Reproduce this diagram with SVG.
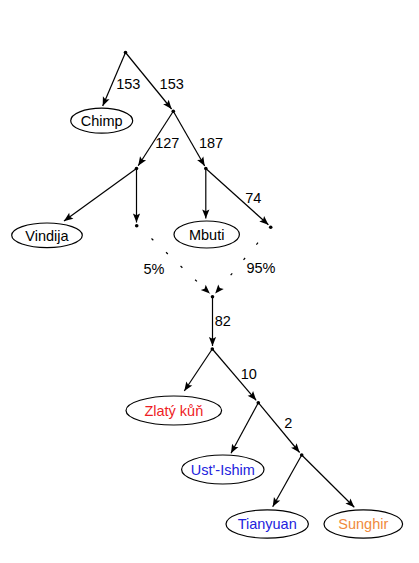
<svg xmlns="http://www.w3.org/2000/svg" width="419" height="563" viewBox="0 0 419 563">
<style>
text{font-family:"Liberation Sans",Arial,sans-serif;font-size:14.5px;text-anchor:middle;fill:#000}
.e line{stroke:#000;stroke-width:1.2;fill:none;marker-end:url(#arr)}
.d{stroke-dasharray:2.5 17.5}
.n ellipse{fill:#fff;stroke:#000;stroke-width:1.2}
.p{fill:#000}
</style>
<defs>
<marker id="arr" viewBox="-10 -5 11 10" refX="0" refY="0" markerWidth="11" markerHeight="10" markerUnits="userSpaceOnUse" orient="auto">
<path d="M0,0 L-9,-3.6 L-7.2,0 L-9,3.6 Z" fill="#000"/>
</marker>
</defs>
<rect width="419" height="563" fill="#fff"/>
<g class="e" id="edges">
<line x1="125.5" y1="52.5" x2="102.7" y2="106"/>
<line x1="125.5" y1="52.5" x2="171.6" y2="109"/>
<line x1="173.3" y1="111.3" x2="138.2" y2="165.8"/>
<line x1="173.3" y1="111.3" x2="204.7" y2="166"/>
<line x1="136.5" y1="168.5" x2="64" y2="221"/>
<line x1="136.5" y1="168.5" x2="136.5" y2="222.5"/>
<line x1="205.8" y1="168.5" x2="205.8" y2="218.5"/>
<line x1="205.8" y1="168.5" x2="268.4" y2="224.8"/>
<line class="d" x1="151.5" y1="238.5" x2="209.8" y2="293.6"/>
<line class="d" x1="258" y1="242.7" x2="215.2" y2="293.6"/>
<line x1="212.5" y1="296.7" x2="212.5" y2="346"/>
<line x1="212.3" y1="349" x2="184.3" y2="391"/>
<line x1="212.3" y1="349" x2="256.2" y2="400.3"/>
<line x1="258.3" y1="402.7" x2="231" y2="453.3"/>
<line x1="258.3" y1="402.7" x2="299.6" y2="452.5"/>
<line x1="301.7" y1="455" x2="272.7" y2="506.7"/>
<line x1="301.7" y1="455" x2="354.3" y2="507.3"/>
</g>
<g id="edge-labels">
<text x="128.3" y="88.5">153</text>
<text x="171.7" y="88.5">153</text>
<text x="167.3" y="148">127</text>
<text x="211" y="148">187</text>
<text x="253.3" y="202.5">74</text>
<text x="154" y="274">5%</text>
<text x="261" y="272.5">95%</text>
<text x="222.7" y="326">82</text>
<text x="248.7" y="379">10</text>
<text x="288.3" y="428">2</text>
</g>
<g id="root"><circle class="p" cx="125.5" cy="52.5" r="1.8"/></g>
<g id="n2"><circle class="p" cx="173.3" cy="111.3" r="1.8"/></g>
<g id="n3"><circle class="p" cx="136.5" cy="168.5" r="1.8"/></g>
<g id="n4"><circle class="p" cx="205.8" cy="168.5" r="1.8"/></g>
<g id="n5"><circle class="p" cx="136.7" cy="225.7" r="1.8"/></g>
<g id="n6"><circle class="p" cx="270.7" cy="227.3" r="1.8"/></g>
<g id="merge"><circle class="p" cx="212.5" cy="296.7" r="1.8"/></g>
<g id="n7"><circle class="p" cx="212.3" cy="349" r="1.8"/></g>
<g id="n8"><circle class="p" cx="258.3" cy="402.7" r="1.8"/></g>
<g id="n9"><circle class="p" cx="301.7" cy="455" r="1.8"/></g>
<g class="n" id="chimp"><ellipse cx="101.7" cy="120.7" rx="31" ry="12.5"/><text x="101.7" y="126">Chimp</text></g>
<g class="n" id="vindija"><ellipse cx="47" cy="235.3" rx="35.3" ry="12.3"/><text x="47" y="240.5">Vindija</text></g>
<g class="n" id="mbuti"><ellipse cx="206.7" cy="234.5" rx="32.7" ry="13.5"/><text x="206.7" y="239.8">Mbuti</text></g>
<g class="n" id="zlaty"><ellipse cx="173.8" cy="410.5" rx="47.8" ry="14.5"/><text x="173.8" y="416" style="fill:#ee1c25">Zlatý kůň</text></g>
<g class="n" id="ustishim"><ellipse cx="222.8" cy="469.5" rx="41.2" ry="14.5"/><text x="222.8" y="475" style="fill:#2222dd">Ust'-Ishim</text></g>
<g class="n" id="tianyuan"><ellipse cx="267.2" cy="524" rx="41.2" ry="14.2"/><text x="267.2" y="529.3" style="fill:#2222dd">Tianyuan</text></g>
<g class="n" id="sunghir"><ellipse cx="363.3" cy="524" rx="39.3" ry="14.2"/><text x="363.3" y="529.3" style="fill:#f08a3c">Sunghir</text></g>
</svg>
